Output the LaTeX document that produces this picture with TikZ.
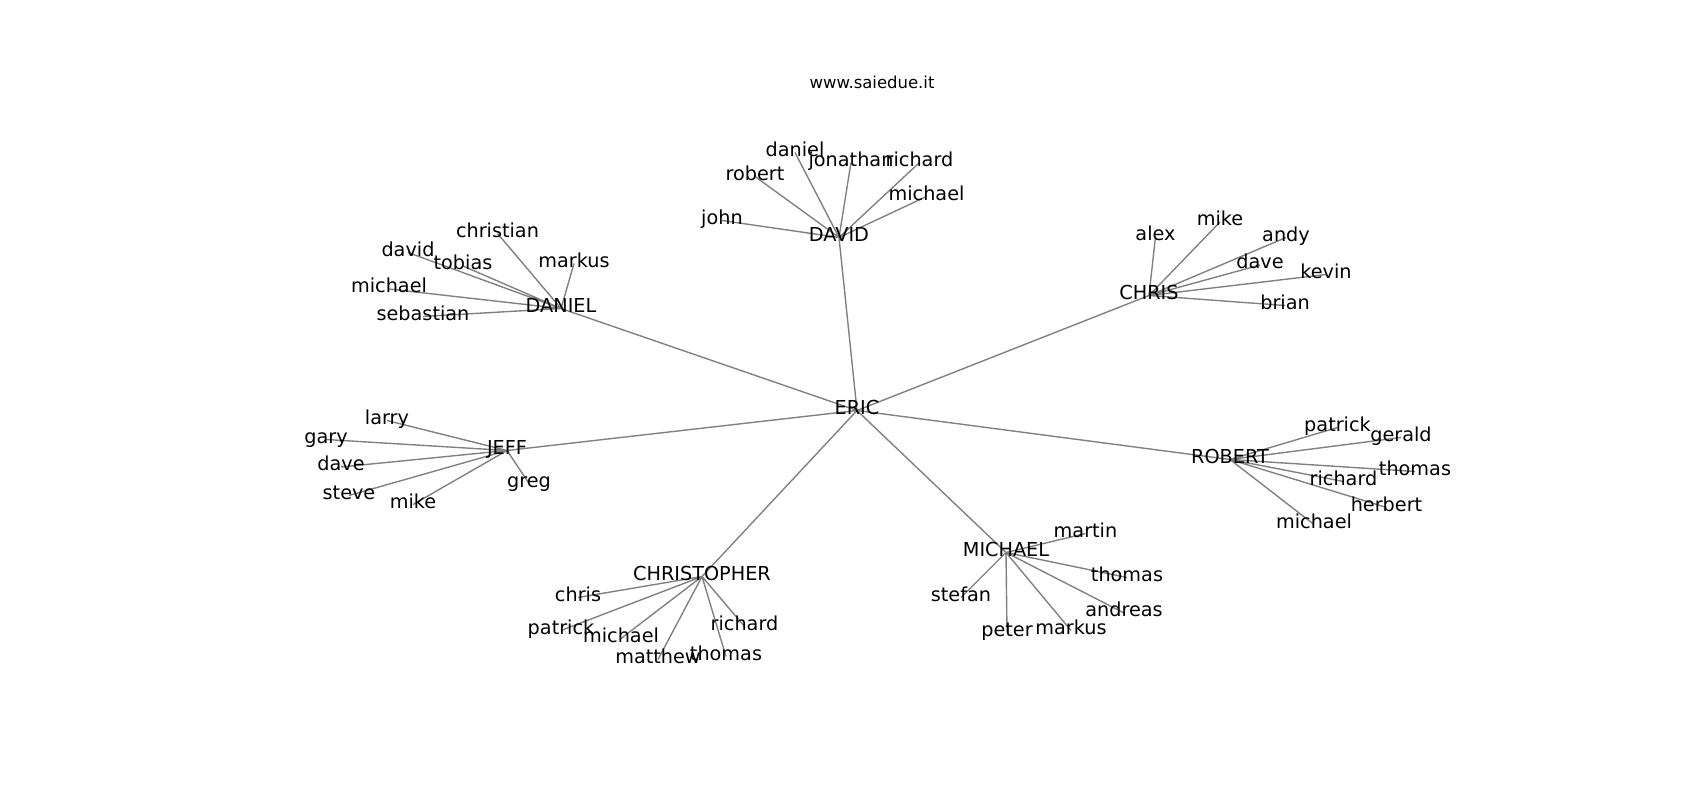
\documentclass[tikz,border=0pt]{standalone}
\usepackage{fontspec}
\setmainfont{DejaVu Sans}
\usepackage{tikz}
\usetikzlibrary{positioning}
\pgfdeclarelayer{background}
\pgfsetlayers{background,main}

\begin{document}
\begin{tikzpicture}[x=0.01in,y=-0.01in,
   person/.style={inner sep=0pt,text height=0.76em,text depth=0.21em,font=\fontsize{13.9}{16}\selectfont},
   link/.style={draw=gray,line width=1pt}]
   \useasboundingbox (0,0) rectangle (1700,800);
   \node [inner sep=0pt,font=\fontsize{11.9}{14}\selectfont] (title) at (872,82) {www.saiedue.it};

   \node [person] (eric)   at (857,410.5) {ERIC};
   \node [person] (david)  at (839,237.5) {DAVID};
   \node [person] (daniel) at (561,308.5) {DANIEL};
   \node [person] (chris)  at (1149,295.5) {CHRIS};
   \node [person] (jeff)   at (507,450.5) {JEFF};
   \node [person] (robert) at (1230,459.5) {ROBERT};
   \node [person] (christopher) at (702,576.5) {CHRISTOPHER};
   \node [person] (michael) at (1006,552.5) {MICHAEL};

   % DAVID
   \node [person] (david_1) at (722,220.5) {john};
   \node [person] (david_2) at (755,176.5) {robert};
   \node [person] (david_3) at (795,152.5) {daniel};
   \node [person] (david_4) at (851,162.5) {jonathan};
   \node [person] (david_5) at (919.5,162.5) {richard};
   \node [person] (david_6) at (926.5,196.5) {michael};
   % DANIEL
   \node [person] (daniel_1) at (497.5,233.5) {christian};
   \node [person] (daniel_2) at (408,252.5) {david};
   \node [person] (daniel_3) at (463,266) {tobias};
   \node [person] (daniel_4) at (574,263.5) {markus};
   \node [person] (daniel_5) at (389,289) {michael};
   \node [person] (daniel_6) at (423,316.5) {sebastian};
   % CHRIS
   \node [person] (chris_1) at (1155.5,236.5) {alex};
   \node [person] (chris_2) at (1220,222) {mike};
   \node [person] (chris_3) at (1286,237.5) {andy};
   \node [person] (chris_4) at (1260,265) {dave};
   \node [person] (chris_5) at (1326,274.5) {kevin};
   \node [person] (chris_6) at (1285,305.5) {brian};
   % JEFF
   \node [person] (jeff_1) at (387,420.5) {larry};
   \node [person] (jeff_2) at (326,439.5) {gary};
   \node [person] (jeff_3) at (341,467) {dave};
   \node [person] (jeff_4) at (349,495.5) {steve};
   \node [person] (jeff_5) at (413,504.5) {mike};
   \node [person] (jeff_6) at (529,483.5) {greg};
   % ROBERT
   \node [person] (robert_1) at (1337.5,427.5) {patrick};
   \node [person] (robert_2) at (1401,437.5) {gerald};
   \node [person] (robert_3) at (1415,471.5) {thomas};
   \node [person] (robert_4) at (1343.5,481.5) {richard};
   \node [person] (robert_5) at (1386.5,507.5) {herbert};
   \node [person] (robert_6) at (1314,524.5) {michael};
   % CHRISTOPHER
   \node [person] (christopher_1) at (578,597.5) {chris};
   \node [person] (christopher_2) at (561,630.5) {patrick};
   \node [person] (christopher_3) at (621,638.5) {michael};
   \node [person] (christopher_4) at (658,659.5) {matthew};
   \node [person] (christopher_5) at (726,656.5) {thomas};
   \node [person] (christopher_6) at (744.5,626.5) {richard};
   % MICHAEL
   \node [person] (michael_1) at (1085.5,533.5) {martin};
   \node [person] (michael_2) at (1127,577.5) {thomas};
   \node [person] (michael_3) at (961,597.5) {stefan};
   \node [person] (michael_4) at (1124,613) {andreas};
   \node [person] (michael_5) at (1007,632.5) {peter};
   \node [person] (michael_6) at (1071,630.5) {markus};

   \begin{pgfonlayer}{background}
   \path [link] (eric.center) -- (david.center) (eric.center) -- (daniel.center)
      (eric.center) -- (chris.center) (eric.center) -- (jeff.center)
      (eric.center) -- (robert.center) (eric.center) -- (christopher.center)
      (eric.center) -- (michael.center);
   \path [link] (david.center) -- (david_1.center) (david.center) -- (david_2.center)
      (david.center) -- (david_3.center) (david.center) -- (david_4.center)
      (david.center) -- (david_5.center) (david.center) -- (david_6.center);
   \path [link] (daniel.center) -- (daniel_1.center) (daniel.center) -- (daniel_2.center)
      (daniel.center) -- (daniel_3.center) (daniel.center) -- (daniel_4.center)
      (daniel.center) -- (daniel_5.center) (daniel.center) -- (daniel_6.center);
   \path [link] (chris.center) -- (chris_1.center) (chris.center) -- (chris_2.center)
      (chris.center) -- (chris_3.center) (chris.center) -- (chris_4.center)
      (chris.center) -- (chris_5.center) (chris.center) -- (chris_6.center);
   \path [link] (jeff.center) -- (jeff_1.center) (jeff.center) -- (jeff_2.center)
      (jeff.center) -- (jeff_3.center) (jeff.center) -- (jeff_4.center)
      (jeff.center) -- (jeff_5.center) (jeff.center) -- (jeff_6.center);
   \path [link] (robert.center) -- (robert_1.center) (robert.center) -- (robert_2.center)
      (robert.center) -- (robert_3.center) (robert.center) -- (robert_4.center)
      (robert.center) -- (robert_5.center) (robert.center) -- (robert_6.center);
   \path [link] (christopher.center) -- (christopher_1.center) (christopher.center) -- (christopher_2.center)
      (christopher.center) -- (christopher_3.center) (christopher.center) -- (christopher_4.center)
      (christopher.center) -- (christopher_5.center) (christopher.center) -- (christopher_6.center);
   \path [link] (michael.center) -- (michael_1.center) (michael.center) -- (michael_2.center)
      (michael.center) -- (michael_3.center) (michael.center) -- (michael_4.center)
      (michael.center) -- (michael_5.center) (michael.center) -- (michael_6.center);
   \end{pgfonlayer}
\end{tikzpicture}
\end{document}
